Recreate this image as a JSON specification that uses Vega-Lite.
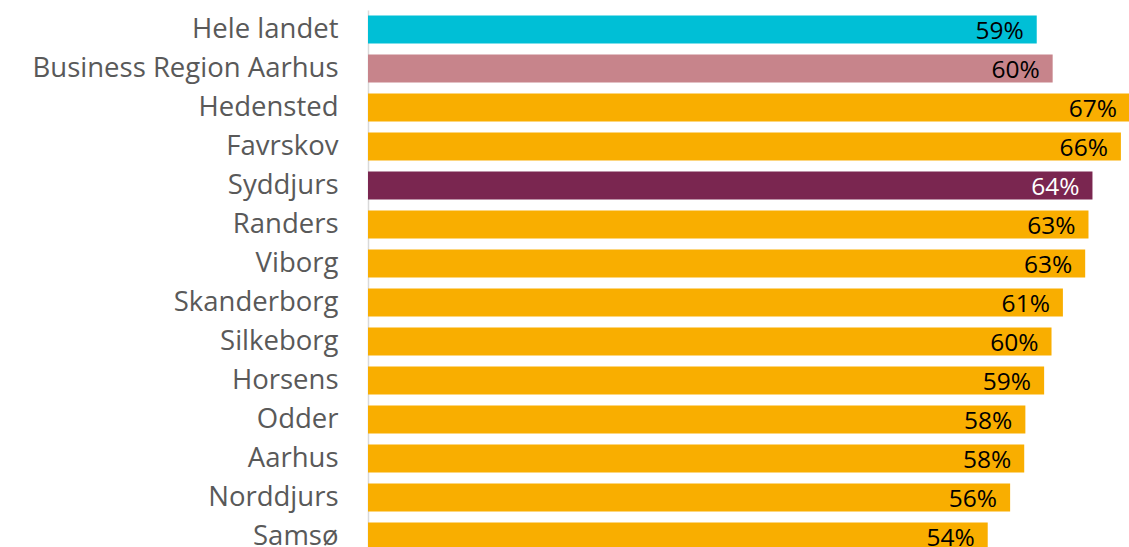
{
  "$schema": "https://vega.github.io/schema/vega-lite/v6.json",
  "autosize": "none",
  "width": 762,
  "height": 546,
  "padding": {"left": 368, "top": 10, "right": 0, "bottom": 0},
  "background": "white",
  "config": {"view": {"stroke": null}, "font": "Open Sans"},
  "data": {"values": [
    {"name": "Hele landet", "value": 58.8, "label": "59%", "group": "land"},
    {"name": "Business Region Aarhus", "value": 60.2, "label": "60%", "group": "region"},
    {"name": "Hedensted", "value": 67.0, "label": "67%", "group": "kommune"},
    {"name": "Favrskov", "value": 66.2, "label": "66%", "group": "kommune"},
    {"name": "Syddjurs", "value": 63.7, "label": "64%", "group": "syddjurs"},
    {"name": "Randers", "value": 63.35, "label": "63%", "group": "kommune"},
    {"name": "Viborg", "value": 63.06, "label": "63%", "group": "kommune"},
    {"name": "Skanderborg", "value": 61.1, "label": "61%", "group": "kommune"},
    {"name": "Silkeborg", "value": 60.1, "label": "60%", "group": "kommune"},
    {"name": "Horsens", "value": 59.45, "label": "59%", "group": "kommune"},
    {"name": "Odder", "value": 57.8, "label": "58%", "group": "kommune"},
    {"name": "Aarhus", "value": 57.7, "label": "58%", "group": "kommune"},
    {"name": "Norddjurs", "value": 56.46, "label": "56%", "group": "kommune"},
    {"name": "Samsø", "value": 54.49, "label": "54%", "group": "kommune"}
  ]},
  "encoding": {
    "y": {
      "field": "name", "type": "nominal", "sort": null,
      "scale": {"paddingInner": 0.282, "paddingOuter": 0.141},
      "axis": {"title": null, "ticks": false, "domain": true, "domainColor": "#d9d9d9", "domainWidth": 1.5,
               "labelFontSize": 27.5, "labelColor": "#595959", "labelPadding": 30, "labelFont": "Open Sans", "labelLimit": 400}
    },
    "x": {
      "field": "value", "type": "quantitative",
      "scale": {"domain": [0, 67], "nice": false, "zero": true},
      "axis": null
    }
  },
  "layer": [
    {
      "mark": {"type": "bar"},
      "encoding": {
        "color": {"field": "group", "type": "nominal", "legend": null,
          "scale": {"domain": ["land", "region", "kommune", "syddjurs"],
                    "range": ["#00BFD6", "#C7848B", "#F9AE00", "#7A2650"]}}
      }
    },
    {
      "mark": {"type": "text", "align": "right", "baseline": "middle", "dx": -13, "dy": 2, "fontSize": 24.5, "font": "Open Sans"},
      "encoding": {
        "text": {"field": "label"},
        "color": {"field": "group", "type": "nominal", "legend": null,
          "scale": {"domain": ["land", "region", "kommune", "syddjurs"],
                    "range": ["#000000", "#000000", "#000000", "#ffffff"]}}
      }
    }
  ],
  "resolve": {"scale": {"color": "independent"}}
}
